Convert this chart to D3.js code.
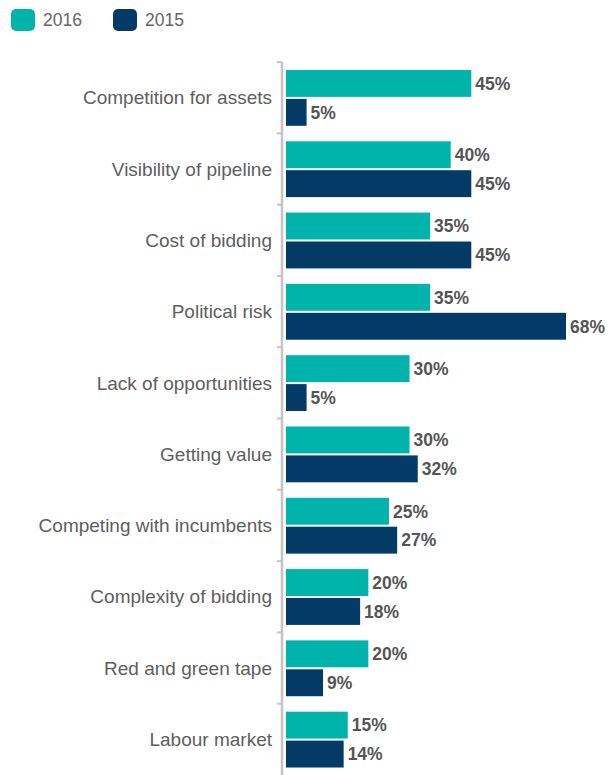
<!DOCTYPE html>
<html><head><meta charset="utf-8">
<script src="https://cdn.jsdelivr.net/npm/d3@7/dist/d3.min.js"></script>
<style>
html,body{margin:0;padding:0;background:#fff;}
svg{display:block;font-family:"Liberation Sans",Arial,sans-serif;}
</style></head>
<body>
<svg id="chart" width="608" height="775"></svg>
<script>
const categories = ["Competition for assets","Visibility of pipeline","Cost of bidding","Political risk","Lack of opportunities","Getting value","Competing with incumbents","Complexity of bidding","Red and green tape","Labour market"];
const values2016 = [45,40,35,35,30,30,25,20,20,15];
const values2015 = [5,45,45,68,5,32,27,18,9,14];
const seriesNames = ["2016","2015"];
const colors = {"2016":"#00b4ac","2015":"#033b66"};

const svg = d3.select("#chart");
const x = d3.scaleLinear().domain([0,68]).range([286,566]);
const y = d3.scaleBand().domain(categories).range([62,775]).paddingInner(0).paddingOuter(0);
const bw = y.bandwidth();
const sub = d3.scaleBand().domain(seriesNames).range([bw*0.112, bw*0.895]).paddingInner(0.07);

// axis line
const axisX = 282;
svg.append("line").attr("x1",axisX).attr("x2",axisX).attr("y1",y.range()[0]).attr("y2",775)
  .attr("stroke","#c4c4c4").attr("stroke-width",2.5);
// boundary ticks
svg.selectAll(".tk").data(categories).enter().append("line")
  .attr("x1",axisX-5).attr("x2",axisX).attr("y1",d=>y(d)).attr("y2",d=>y(d))
  .attr("stroke","#c4c4c4").attr("stroke-width",2);

// category labels
svg.selectAll(".cat").data(categories).enter().append("text")
  .attr("x",272).attr("y",d=>y(d)+bw/2).attr("text-anchor","end").attr("dy","0.35em")
  .attr("fill","#5e5e5e").style("font-size","19px").text(d=>d);

const rows = categories.map((c,i)=>({c, vals:[{s:"2016",v:values2016[i]},{s:"2015",v:values2015[i]}]}));
const g = svg.selectAll(".row").data(rows).enter().append("g").attr("transform",d=>`translate(0,${y(d.c)})`);
g.selectAll("rect").data(d=>d.vals).enter().append("rect")
  .attr("x",x(0)).attr("y",d=>sub(d.s)).attr("width",d=>x(d.v)-x(0)).attr("height",sub.bandwidth())
  .attr("fill",d=>colors[d.s]);
g.selectAll(".val").data(d=>d.vals).enter().append("text")
  .attr("x",d=>x(d.v)+4).attr("y",d=>sub(d.s)+sub.bandwidth()/2).attr("dy","0.36em")
  .attr("fill","#555").style("font-size","17.5px").style("font-weight","bold").text(d=>d.v+"%");

// legend
const leg = svg.append("g");
const legX = [11,113];
seriesNames.forEach((s,i)=>{
  leg.append("rect").attr("x",legX[i]).attr("y",9).attr("width",24).attr("height",22).attr("rx",5)
    .attr("fill",colors[s]);
  leg.append("text").attr("x",legX[i]+32).attr("y",20).attr("dy","0.36em")
    .attr("fill","#666").style("font-size","17.5px").text(s);
});
</script>
</body></html>
